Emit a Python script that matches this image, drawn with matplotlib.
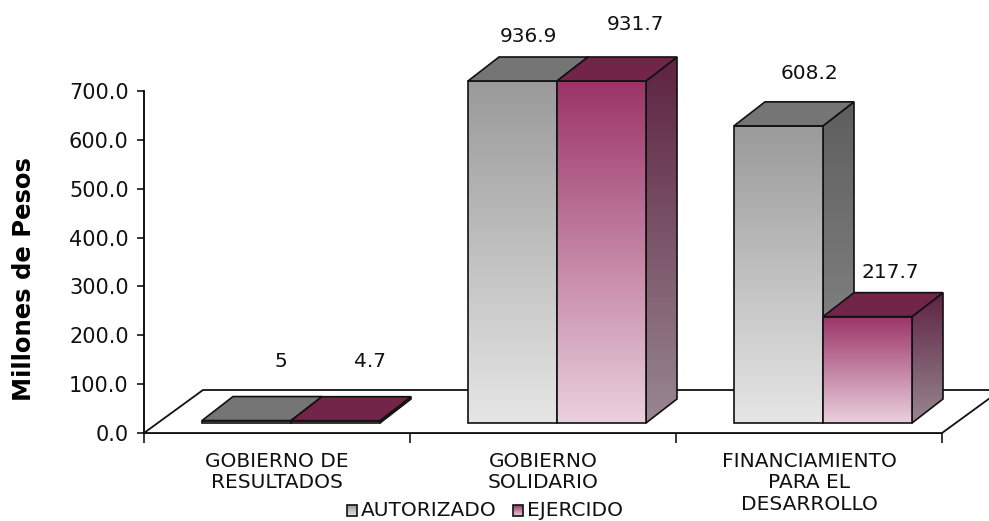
import numpy as np
import matplotlib
matplotlib.use('Agg')
import matplotlib.pyplot as plt
from matplotlib.patches import Polygon

# data
categories = ['GOBIERNO DE\nRESULTADOS', 'GOBIERNO\nSOLIDARIO', 'FINANCIAMIENTO\nPARA EL\nDESARROLLO']
series_names = ['AUTORIZADO', 'EJERCIDO']
autorizado = [5.0, 936.9, 608.2]
ejercido = [4.7, 931.7, 217.7]
value_text = [['5', '936.9', '608.2'], ['4.7', '931.7', '217.7']]
yticks = [0, 100, 200, 300, 400, 500, 600, 700]
ymax = 700

# face colours per series: (front top, front bottom, top face, side top, side bottom)
faces = [
    ('#9a9a9a', '#e6e6e6', '#757575', '#5e5e5e', '#8e8e8e'),
    ('#9b3467', '#ead0de', '#722548', '#5e2341', '#988792'),
]
# small pixel nudges for the value labels (series, category)
label_nudge = [[(19, -35), (0, -21), (15, -28)],
               [(19, -35), (19, -32), (7, -20)]]

W, H = 989, 521
fig = plt.figure(figsize=(W / 100, H / 100), dpi=100)
fig.patch.set_facecolor('white')

ax = fig.add_axes([144 / W, (H - 433) / H, 798 / W, 342 / H])
ax.set_xlim(-0.5, 2.5)
ax.set_ylim(0, ymax)
ax.patch.set_visible(False)
for s in ['top', 'right']:
    ax.spines[s].set_visible(False)
for s in ['left', 'bottom']:
    ax.spines[s].set_linewidth(1.3)
ax.set_yticks(yticks)
ax.set_yticklabels([f'{v:.1f}' for v in yticks], fontsize=15, color='#111111')
ax.set_xticks([-0.5, 0.5, 1.5, 2.5])
ax.set_xticklabels([])
ax.tick_params(axis='y', direction='out', length=5, width=1.1, pad=6)
ax.tick_params(axis='x', direction='out', length=7, width=1.1)
ax.set_ylabel('Millones de Pesos', fontsize=17.5, fontweight='bold')
ax.yaxis.set_label_coords(-0.135, 0.45)

# pixel canvas over the whole figure for the 3D faces
cv = fig.add_axes([0, 0, 1, 1], zorder=3)
cv.set_xlim(0, W)
cv.set_ylim(H, 0)
cv.axis('off')


def to_px(x, y):
    d = ax.transData.transform((x, y))
    return d[0], H - d[1]


def hex_rgb(c):
    return np.array(matplotlib.colors.to_rgb(c))


def grad_face(pts, c_top, c_bot, z):
    xs = [p[0] for p in pts]
    ys = [p[1] for p in pts]
    t = np.linspace(0, 1, 256)[:, None, None]
    img = (1 - t) * hex_rgb(c_top) + t * hex_rgb(c_bot)
    im = cv.imshow(img, extent=(min(xs), max(xs), max(ys), min(ys)), origin='upper',
                   aspect='auto', interpolation='bilinear', zorder=z)
    edge = Polygon(pts, closed=True, facecolor='none', edgecolor='#111111',
                   lw=1.2, zorder=z + 0.1, joinstyle='miter')
    cv.add_patch(edge)
    im.set_clip_path(edge)


def flat_face(pts, color, z):
    cv.add_patch(Polygon(pts, closed=True, facecolor=color, edgecolor='#111111',
                         lw=1.2, zorder=z, joinstyle='miter'))


# floor
fdx, fdy = 59, 43
x0, y0 = to_px(-0.5, 0)
x1, _ = to_px(2.5, 0)
cv.add_patch(Polygon([(x0, y0), (x1, y0), (x1 + fdx, y0 - fdy), (x0 + fdx, y0 - fdy)],
                     closed=True, facecolor='white', edgecolor='#111111', lw=1.3, zorder=1))

# bars
bw = 89          # bar width in px
shift_x, shift_y = 14, 10   # bars sit a little behind the front edge of the floor
bdx, bdy = 31, 24
series = [autorizado, ejercido]
for i in range(len(categories)):
    cx, _ = to_px(i, 0)
    for j, vals in enumerate(series):
        v = vals[i]
        _, yt = to_px(i, min(v, ymax))
        _, yb = to_px(i, 0)
        yt -= shift_y
        yb -= shift_y
        xl = cx + shift_x - bw + j * bw
        xr = xl + bw
        ft, fb, tc, st, sb = faces[j]
        z = 5 + j
        grad_face([(xr, yb), (xr + bdx, yb - bdy), (xr + bdx, yt - bdy), (xr, yt)], st, sb, z)
        grad_face([(xl, yb), (xr, yb), (xr, yt), (xl, yt)], ft, fb, z + 0.2)
        flat_face([(xl, yt), (xr, yt), (xr + bdx, yt - bdy), (xl + bdx, yt - bdy)], tc, z + 0.4)
        nx, ny = label_nudge[j][i]
        cv.text((xl + xr) / 2 + bdx / 2 + nx, yt - bdy + ny, value_text[j][i],
                ha='center', va='center', fontsize=14.5, color='#111111', zorder=10)

# category labels
for i, name in enumerate(categories):
    cx, _ = to_px(i, 0)
    cv.text(cx, 452, name, ha='center', va='top', fontsize=14.5, linespacing=1.15,
            color='#111111')

# legend
lx = [347, 513]
for j, name in enumerate(series_names):
    ft, fb = faces[j][0], faces[j][1]
    sq = [(lx[j], 505), (lx[j] + 10, 505), (lx[j] + 10, 516), (lx[j], 516)]
    grad_face(sq, ft, fb, 8)
    cv.text(lx[j] + 14, 511, name, ha='left', va='center', fontsize=14.5, color='#111111')

fig.savefig('out.png', dpi=100)
